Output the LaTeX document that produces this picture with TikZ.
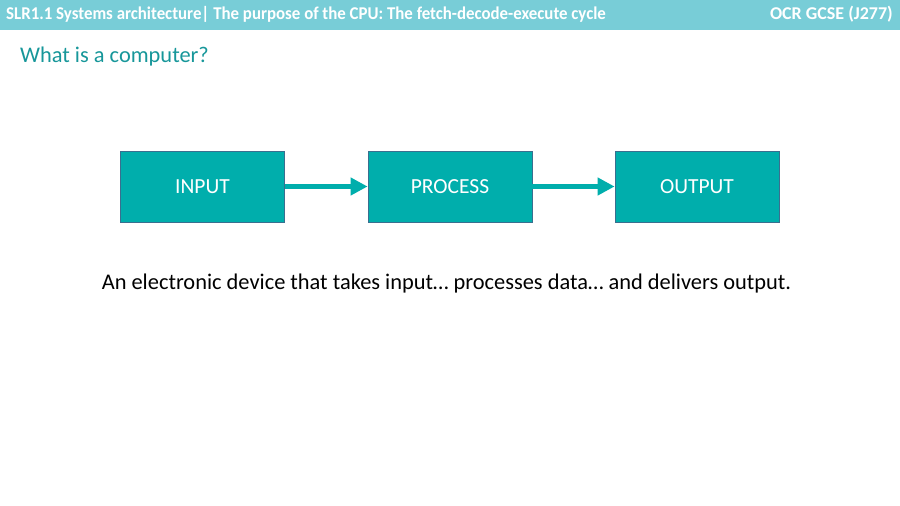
\documentclass[tikz,border=0pt]{standalone}
\usepackage{fontspec}
\setmainfont{Carlito}
\usetikzlibrary{arrows.meta}
\definecolor{barcol}{HTML}{78CDD7}
\definecolor{boxcol}{HTML}{00AEAC}
\definecolor{boxedge}{HTML}{3A6F8F}
\definecolor{headcol}{HTML}{17979A}
\tikzset{
  stage/.style={draw=boxedge, line width=0.8pt, fill=boxcol, text=white, minimum width=164pt, minimum height=71pt, inner sep=0pt, font=\fontsize{21.5}{25}\selectfont},
  flow/.style={draw=boxcol, line width=5pt, -{Triangle[length=17pt,width=17pt]}, shorten >=0pt},
  bartext/.style={text=white, font=\bfseries\fontsize{18}{21}\selectfont, inner sep=0pt},
}
\begin{document}
\begin{tikzpicture}[x=1pt,y=-1pt]
\useasboundingbox (0,0) rectangle (900,506);
\fill[white] (0,0) rectangle (900,506);
\fill[barcol] (0,0) rectangle (900,30);
\node[anchor=west, bartext] (title) at (6,14) {\scalebox{0.937}[1]{SLR1.1 Systems architecture| The purpose of the CPU: The fetch-decode-execute cycle}};
\node[anchor=east, bartext] (course) at (893,14) {OCR GCSE (J277)};
\node[anchor=west, text=headcol, font=\fontsize{22.4}{26}\selectfont, inner sep=0pt] (heading) at (20,57) {What is a computer?};
\node[stage] (in) at (202.5,186.5) {INPUT};
\node[stage] (proc) at (450,186.5) {PROCESS};
\node[stage] (out) at (697,186.5) {OUTPUT};
\draw[flow] (in) -- (proc);
\draw[flow] (proc) -- (out);
\node[font=\fontsize{22.4}{26}\selectfont, inner sep=0pt] (desc) at (446.5,284) {An electronic device that takes input\ldots\ processes data\ldots\ and delivers output.};
\end{tikzpicture}
\end{document}
